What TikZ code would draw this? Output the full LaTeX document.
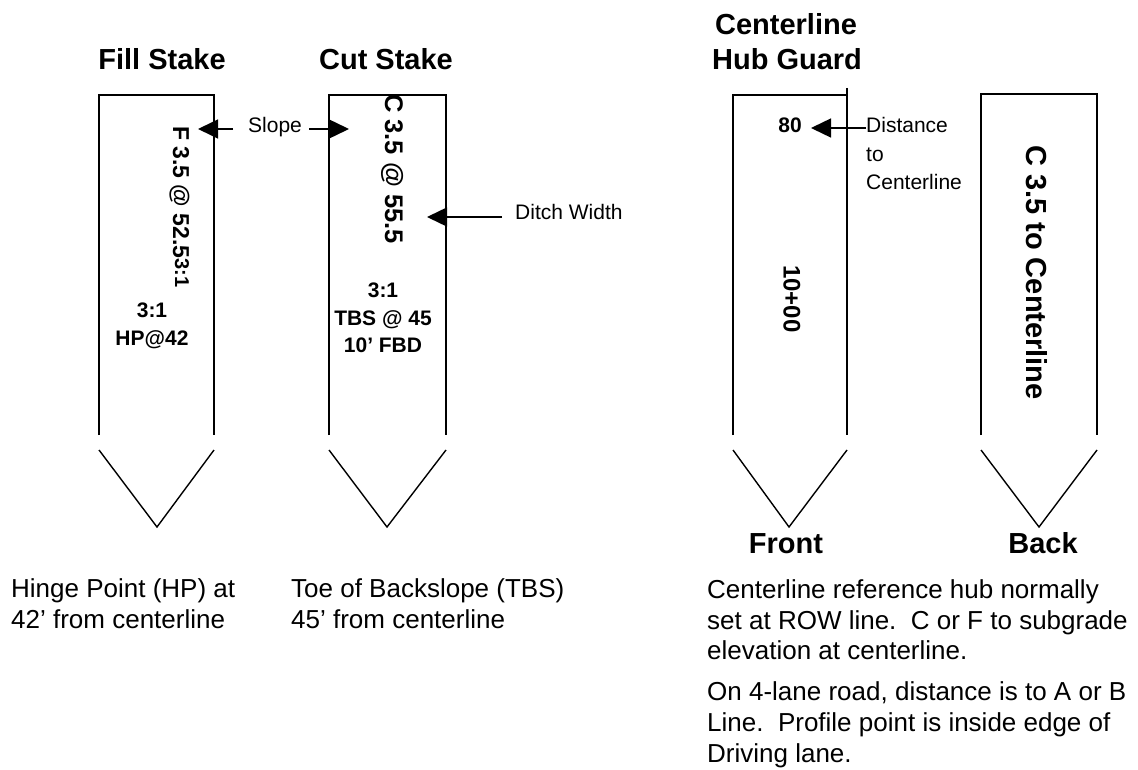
\documentclass[tikz,border=0pt]{standalone}
\usepackage{fontspec}
\setmainfont{Liberation Sans}
\usetikzlibrary{arrows.meta}
\begin{document}
\begin{tikzpicture}[x=1pt,y=-1pt,
  stakeline/.style={line width=1.4pt},
  heading/.style={font=\fontsize{29}{33}\selectfont\bfseries, inner sep=0pt, anchor=base},
  stamp/.style={font=\fontsize{24}{28}\selectfont\bfseries, inner sep=0pt, rotate=-90, anchor=base west},
  smallstamp/.style={font=\fontsize{21}{25}\selectfont\bfseries, inner sep=0pt, anchor=base},
  callout/.style={font=\fontsize{21}{25}\selectfont, inner sep=0pt, anchor=base west},
  body/.style={font=\fontsize{26}{30}\selectfont, inner sep=0pt, anchor=base west},
  pointer/.style={line width=1.4pt, -{Triangle[length=20pt,width=19pt]}}
]
\useasboundingbox (0,0) rectangle (1138,770);

% ---- headings ----
\node[heading] (tFill) at (162,70) {Fill Stake};
\node[heading] (tCut) at (386,70) {Cut Stake};
\node[heading] (tHub1) at (786,35) {Centerline};
\node[heading] (tHub2) at (787,70) {Hub Guard};

% ---- stakes: open-bottom body plus a pointed tip ----
\draw[stakeline] (99,435) -- (99,95) -- (214,95) -- (214,435);
\draw[stakeline] (99,450) -- (157,527) -- (214,450);
\draw[stakeline] (329,435) -- (329,95) -- (446,95) -- (446,435);
\draw[stakeline] (329,450) -- (387,527) -- (446,450);
\draw[stakeline] (733,435) -- (733,95) -- (847,95);
\draw[stakeline] (847,88) -- (847,435);
\draw[stakeline] (733,450) -- (789,527) -- (847,450);
\draw[stakeline] (981,435) -- (981,94) -- (1097,94) -- (1097,435);
\draw[stakeline] (981,450) -- (1039,527) -- (1097,450);

% ---- fill stake markings ----
\node[stamp, font=\fontsize{23}{27}\selectfont\bfseries] (fillMark) at (173,126)
  {F 3.5 @ 52.5\raisebox{2pt}{\fontsize{20}{22}\selectfont 3:1}};
\node[smallstamp] (fillRatio) at (152,317) {3:1};
\node[smallstamp] (fillHP) at (152,345) {HP@42};

% ---- cut stake markings ----
\node[stamp, font=\fontsize{25.5}{29}\selectfont\bfseries] (cutMark) at (385,94) {C 3.5 @ 55.5};
\node[smallstamp] (cutRatio) at (383,298) {3:1};
\node[smallstamp] (cutTBS) at (383,325) {TBS @ 45};
\node[smallstamp] (cutFBD) at (383,352) {10’ FBD};

% ---- slope callout ----
\node[callout] (slope) at (248,133) {Slope};
\coordinate (fillTip) at (198,129);
\coordinate (cutTip) at (349,129);
\draw[pointer] ([xshift=-15pt]slope.west |- fillTip) -- (fillTip);
\draw[pointer] ([xshift=7pt]slope.east |- cutTip) -- (cutTip);

% ---- ditch width callout ----
\node[callout] (ditch) at (515,220) {Ditch Width};
\coordinate (ditchTip) at (427,217);
\draw[pointer] ([xshift=-13pt]ditch.west |- ditchTip) -- (ditchTip);

% ---- hub guard front ----
\node[smallstamp] (dist) at (790,133) {80};
\node[callout] (distA) at (866,133) {Distance};
\node[callout] (distB) at (866,162) {to};
\node[callout] (distC) at (866,190) {Centerline};
\coordinate (distTip) at (811,128);
\draw[pointer] (distA.west |- distTip) -- (distTip);
\node[stamp] (station) at (783.5,265) {10+00};

% ---- hub guard back ----
\node[stamp, font=\fontsize{29}{33}\selectfont\bfseries] (backMark) at (1026,145) {C 3.5 to Centerline};

\node[heading] (front) at (786,553) {Front};
\node[heading] (back) at (1043,553) {Back};

% ---- explanatory notes ----
\node[body] (hp1) at (11,597) {Hinge Point (HP) at};
\node[body] (hp2) at (11,628) {42’ from centerline};
\node[body] (tbs1) at (291,597) {Toe of Backslope (TBS)};
\node[body] (tbs2) at (291,628) {45’ from centerline};
\node[body] (n1) at (707,598) {Centerline reference hub normally};
\node[body] (n2) at (707,629) {set at ROW line.\ \ C or F to subgrade};
\node[body] (n3) at (707,659) {elevation at centerline.};
\node[body] (n4) at (707,700) {On 4-lane road, distance is to A or B};
\node[body] (n5) at (707,731) {Line.\ \ Profile point is inside edge of};
\node[body] (n6) at (707,762) {Driving lane.};
\end{tikzpicture}
\end{document}
